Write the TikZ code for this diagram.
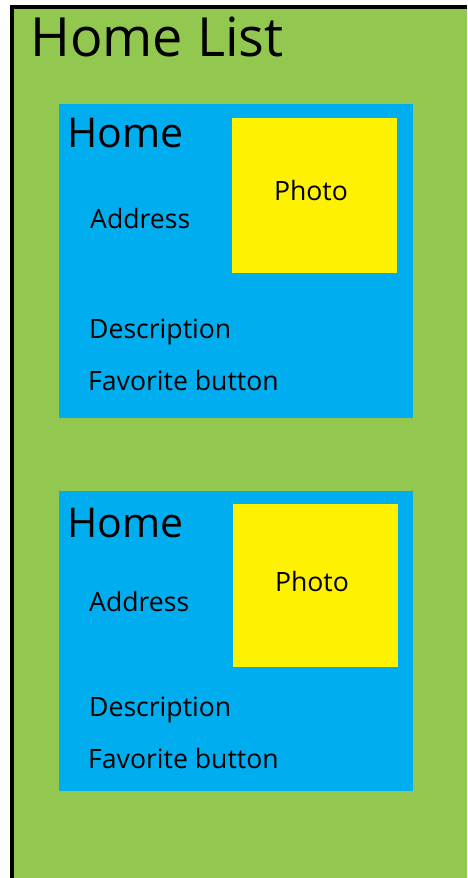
\documentclass[tikz,border=0pt]{standalone}
\usepackage{fontspec}
\setmainfont{Open Sans}
\definecolor{bggreen}{RGB}{146,200,80}
\definecolor{cardblue}{RGB}{0,174,239}
\definecolor{photoyellow}{RGB}{255,242,0}
\begin{document}
\begin{tikzpicture}[x=1pt,y=-1pt,
  lbl/.style={anchor=base west,inner sep=0pt,text=black},
  big/.style={lbl,font=\fontsize{54}{60}\selectfont},
  mid/.style={lbl,font=\fontsize{41}{46}\selectfont},
  small/.style={lbl,font=\fontsize{26.6}{30}\selectfont},
  card/.style={fill=cardblue},
  photo/.style={fill=photoyellow}]
\useasboundingbox (0,0) rectangle (467,878);
\fill[white] (0,0) rectangle (467,878);
\fill[bggreen] (12,7) rectangle (467,878);
\draw[line width=3.5pt] (12,878) -- (12,7) -- (467,7);
\node[big] (title) at (30,56) {Home List};
% card 1
\fill[card] (59,104) rectangle (413,418);
\fill[photo] (232,118) rectangle (397,273);
\node[mid] (home1) at (67,147) {Home};
\node[small] (addr1) at (90,228) {Address};
\node[small,anchor=center] (photo1) at (311,191) {Photo};
\node[small] (desc1) at (89,338) {Description};
\node[small] (fav1) at (88,390) {Favorite button};
% card 2
\fill[card] (59,491) rectangle (413,791);
\fill[photo] (233,504) rectangle (398,667);
\node[mid] (home2) at (67,537) {Home};
\node[small] (addr2) at (89,611) {Address};
\node[small,anchor=center] (photo2) at (312,582) {Photo};
\node[small] (desc2) at (89,716) {Description};
\node[small] (fav2) at (88,768) {Favorite button};
\end{tikzpicture}
\end{document}
